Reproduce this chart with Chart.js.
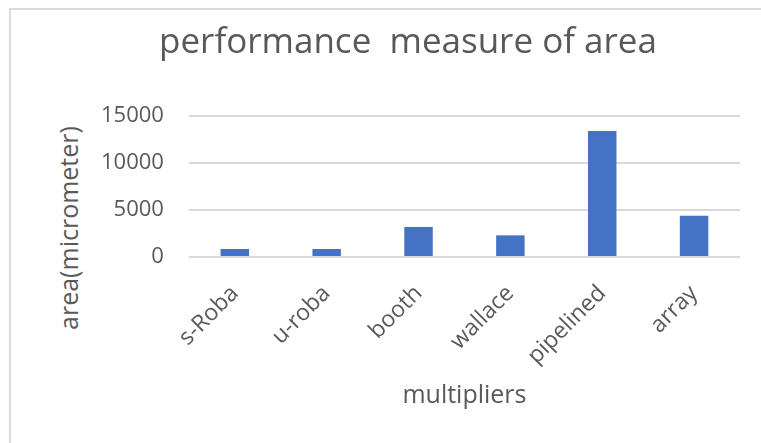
<!DOCTYPE html>
<html>
<head>
<meta charset="utf-8">
<script src="https://cdn.jsdelivr.net/npm/chart.js@4.4.1/dist/chart.umd.min.js"></script>
<style>
    body { margin: 0; background: #fff; overflow: hidden; }
    .marco { position: absolute; left: 9px; top: 8px; width: 800px; height: 480px; border: 2px solid #dadada; }
    .titulo-y { position: absolute; left: 68px; top: 228px; transform: translate(-50%, -50%) rotate(-90deg);
                white-space: nowrap; font-family: "Open Sans", sans-serif; font-size: 25px; color: #595959; }
    .contenedor { position: absolute; left: 0; top: 0; width: 761px; height: 443px; }
</style>
</head>
<body>
<div class="marco"></div>
<div class="titulo-y">area(micrometer)</div>
<div class="contenedor"><canvas id="barchart"></canvas></div>
<script>
// datos
const categorias = ['s-Roba', 'u-roba', 'booth', 'wallace', 'pipelined', 'array'];
const areas = [850, 850, 3200, 2300, 13400, 4400];
const marcasY = [0, 5000, 10000, 15000];

const gris = '#595959';
const fuente = '"Open Sans", sans-serif';

const ctx = document.getElementById('barchart').getContext('2d');
const barchart = new Chart(ctx, {
    type: 'bar',
    data: {
        labels: categorias,
        datasets: [{
            label: 'area',
            data: areas,
            backgroundColor: '#4472C4',
            categoryPercentage: 1,
            barPercentage: 0.31
        }]
    },
    options: {
        responsive: true,
        maintainAspectRatio: false,
        animation: false,
        layout: {
            padding: { left: 76, right: 21, top: 0, bottom: 32 }
        },
        plugins: {
            legend: { display: false },
            tooltip: { enabled: false },
            title: {
                display: true,
                text: 'performance  measure of area',
                color: gris,
                font: { family: fuente, size: 35, weight: 'normal' },
                padding: { top: 22, bottom: 52 }
            }
        },
        scales: {
            x: {
                afterFit: scale => { scale.height = 154; },  // alto fijo del eje
                grid: { display: false },
                border: { display: false },
                ticks: {
                    color: gris,
                    font: { family: fuente, size: 23 },
                    minRotation: 45,
                    maxRotation: 45,
                    autoSkip: false,
                    padding: 15
                },
                title: {
                    display: true,
                    text: 'multipliers',
                    color: gris,
                    font: { family: fuente, size: 25 },
                    padding: { top: 10, bottom: 0 }
                }
            },
            y: {
                min: marcasY[0],
                max: marcasY[marcasY.length - 1],
                afterBuildTicks: axis => { axis.ticks = marcasY.map(v => ({ value: v })); },
                grid: { color: '#d9d9d9', lineWidth: 2, drawTicks: false },
                border: { display: false },
                ticks: {
                    color: gris,
                    font: { family: fuente, size: 22 },
                    padding: 25,
                    callback: v => String(v)  // sin separador de miles
                }
            }
        }
    }
});
</script>
</body>
</html>
